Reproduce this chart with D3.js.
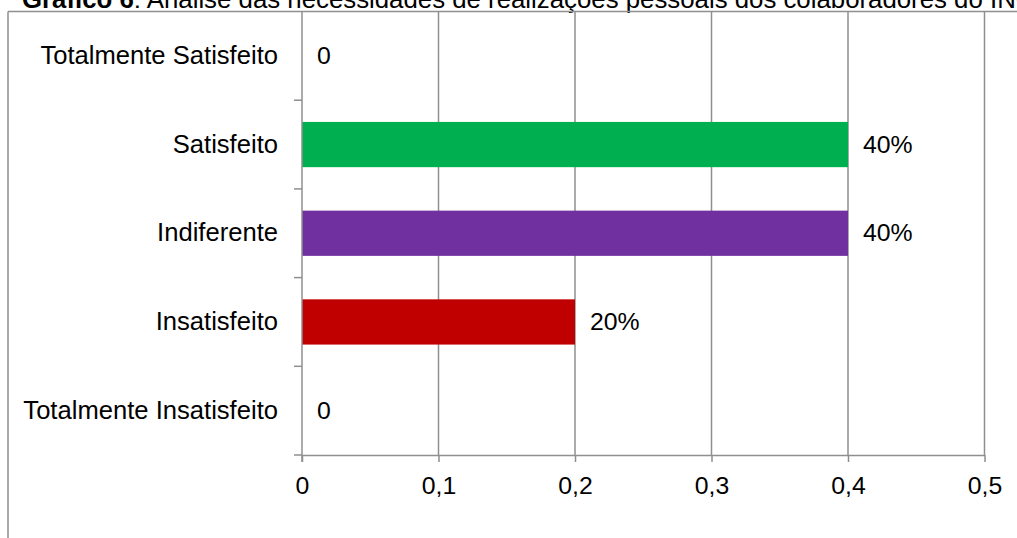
<!DOCTYPE html>
<html>
<head>
<meta charset="utf-8">
<script src="https://cdn.jsdelivr.net/npm/d3@7"></script>
<style>
  html, body { margin: 0; padding: 0; background: #fff; overflow: hidden; }
  svg { display: block; font-family: Arial, "Liberation Sans", sans-serif; }
</style>
</head>
<body>
<svg id="chart" width="1017" height="538"></svg>
<script>
const categories = ["Totalmente Satisfeito", "Satisfeito", "Indiferente", "Insatisfeito", "Totalmente Insatisfeito"];
const values = [0, 0.4, 0.4, 0.2, 0];
const valueLabels = ["0", "40%", "40%", "20%", "0"];
const barColors = ["#00B050", "#00B050", "#7030A0", "#C00000", "#C00000"];
const xTicks = [0, 0.1, 0.2, 0.3, 0.4, 0.5];
const xTickLabels = ["0", "0,1", "0,2", "0,3", "0,4", "0,5"];
const titleBold = "Gráfico 6";
const titleRest = ": Análise das necessidades de realizações pessoais dos colaboradores do INC";

const svg = d3.select("#chart");
const W = 1017, H = 538;
const plot = { left: 302, right: 984.5, top: 11.5, bottom: 455 };
const gridColor = "#8f8f8f";
const fontSize = 24.8;
const catFontSize = 25.6;

const x = d3.scaleLinear().domain([0, 0.5]).range([plot.left, plot.right]);
const y = d3.scaleBand().domain(categories).range([plot.top, plot.bottom]).paddingInner(0.49).paddingOuter(0.245);

// Title (cut at the top, as in the reference)
const title = svg.append("text").attr("x", 22).attr("y", 7.5)
  .attr("font-size", "25.8px").attr("fill", "#000");
title.append("tspan").attr("font-weight", "bold").text(titleBold);
title.append("tspan").text(titleRest);

// Outer frame
svg.append("line").attr("x1", 8).attr("x2", W).attr("y1", plot.top).attr("y2", plot.top)
  .attr("stroke", gridColor).attr("stroke-width", 1.5);
svg.append("line").attr("x1", 8).attr("x2", 8).attr("y1", plot.top).attr("y2", H)
  .attr("stroke", gridColor).attr("stroke-width", 1.5);

// Vertical gridlines
svg.append("g").selectAll("line").data(xTicks.slice(1)).join("line")
  .attr("x1", d => x(d)).attr("x2", d => x(d))
  .attr("y1", plot.top).attr("y2", plot.bottom)
  .attr("stroke", gridColor).attr("stroke-width", 1.5);

// Bars
svg.append("g").selectAll("rect").data(categories).join("rect")
  .attr("x", x(0))
  .attr("y", d => y(d))
  .attr("width", (d, i) => x(values[i]) - x(0))
  .attr("height", y.bandwidth())
  .attr("fill", (d, i) => barColors[i]);

// X axis
const xAxis = d3.axisBottom(x).tickValues(xTicks)
  .tickFormat((d, i) => xTickLabels[i]).tickSize(7).tickPadding(14).tickSizeOuter(0);
const gx = svg.append("g").attr("transform", `translate(0,${plot.bottom})`).call(xAxis);
gx.select(".domain").attr("stroke", gridColor).attr("stroke-width", 1.5);
gx.selectAll(".tick line").attr("stroke", gridColor).attr("stroke-width", 1.5);
gx.selectAll(".tick text").attr("font-size", fontSize + "px").attr("fill", "#000")
  .attr("font-family", "Arial, 'Liberation Sans', sans-serif");
svg.append("line").attr("x1", plot.left - 8).attr("x2", plot.left)
  .attr("y1", plot.bottom).attr("y2", plot.bottom)
  .attr("stroke", gridColor).attr("stroke-width", 1.5);

// Y axis line
svg.append("line").attr("x1", plot.left).attr("x2", plot.left)
  .attr("y1", plot.top).attr("y2", plot.bottom + 7)
  .attr("stroke", gridColor).attr("stroke-width", 1.5);

// Y category boundary ticks
const step = (plot.bottom - plot.top) / categories.length;
const boundaries = d3.range(1, categories.length).map(i => plot.top + i * step);
svg.append("g").selectAll("line").data(boundaries).join("line")
  .attr("x1", plot.left - 8).attr("x2", plot.left)
  .attr("y1", d => d).attr("y2", d => d)
  .attr("stroke", gridColor).attr("stroke-width", 1.5);

// Category labels
svg.append("g").selectAll("text").data(categories).join("text")
  .attr("x", plot.left - 24)
  .attr("y", d => y(d) + y.bandwidth() / 2 + 8)
  .attr("text-anchor", "end")
  .attr("font-size", catFontSize + "px").attr("fill", "#000")
  .text(d => d);

// Value labels
svg.append("g").selectAll("text").data(categories).join("text")
  .attr("x", (d, i) => x(values[i]) + 15)
  .attr("y", d => y(d) + y.bandwidth() / 2 + 8)
  .attr("font-size", fontSize + "px").attr("fill", "#000")
  .text((d, i) => valueLabels[i]);
</script>
</body>
</html>
